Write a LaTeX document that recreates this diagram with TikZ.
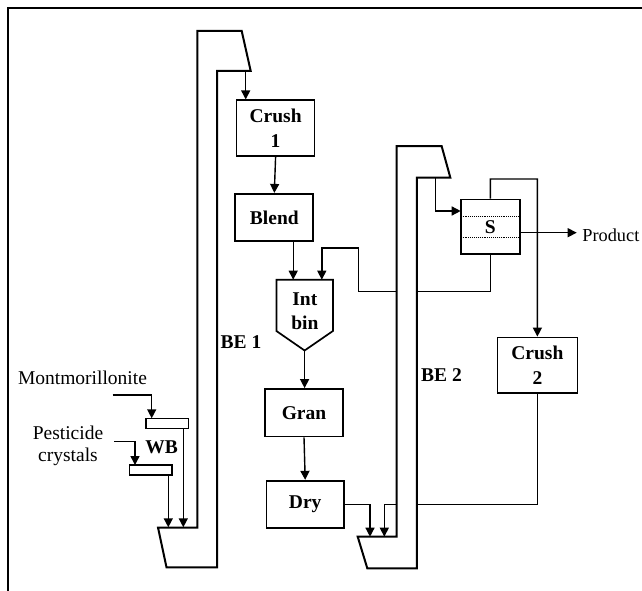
\documentclass[tikz,border=0pt]{standalone}
\usepackage{fontspec}
\setmainfont{Liberation Serif}
\usetikzlibrary{arrows.meta}
\begin{document}
\begin{tikzpicture}[x=1pt,y=-1pt,
  conn/.style={line width=1.4pt},
  arr/.style={conn,-{Triangle[length=9pt,width=9pt]}},
  unit/.style={draw,line width=1.7pt,inner sep=0pt,font=\fontsize{19.5}{24.5}\selectfont\bfseries,align=center},
  lbl/.style={inner sep=0pt,font=\fontsize{19.5}{21.7}\selectfont,align=center},
  blbl/.style={inner sep=0pt,font=\fontsize{19.5}{24.5}\selectfont\bfseries,align=center},
  elev/.style={draw,fill=white,line width=2pt},
  feeder/.style={draw,line width=1.6pt,inner sep=0pt,minimum height=10pt}]
\useasboundingbox (0,0) rectangle (642,591);
% frame
\draw[line width=1.4pt] (8,591) -- (8,8) -- (642,8);

% process units
\node[unit,minimum width=78pt,minimum height=55.5pt] (crush1) at (275.6,128) {Crush\\1};
\node[unit,minimum width=78pt,minimum height=47.5pt] (blend) at (274.3,217.5) {Blend};
\node[unit,minimum width=78pt,minimum height=47.5pt] (gran) at (304,412.7) {Gran};
\node[unit,minimum width=77.4pt,minimum height=47pt] (dry) at (305.2,504.2) {Dry};
\node[unit,minimum width=80pt,minimum height=55.7pt] (crush2) at (537.4,365.3) {Crush\\2};
\node[unit,minimum width=59.3pt,minimum height=54.7pt] (s) at (490.4,226.7) {};
\node[blbl] (slabel) at (490.4,227.5) {S};
\draw[densely dotted,line width=0.9pt] (460.7,216) -- (520.1,216);
\draw[densely dotted,line width=0.9pt] (460.7,237.3) -- (520.1,237.3);

% intermediate bin
\coordinate (ibA) at (276.4,279.7);
\coordinate (ibB) at (332.9,279.7);
\coordinate (ibtip) at (304.6,350.5);
\draw[line width=1.7pt] (ibA) -- (ibB) -- (332.9,331) -- (ibtip) -- (276.4,331) -- cycle;
\node[blbl] (intbin) at (304.8,311) {Int\\bin};

% feeders
\node[feeder,minimum width=42.6pt] (wb1) at (167,423.3) {};
\node[feeder,minimum width=42.4pt] (wb2) at (150.5,470) {};
\node[blbl] (wb) at (161.7,447.3) {WB};
\node[lbl] (mont) at (82.5,378) {Montmorillonite};
\node[lbl] (pest) at (68,446) {Pesticide\\crystals};
\node[lbl,anchor=west,font=\fontsize{18.3}{21.7}\selectfont] (prod) at (582.2,235.5) {Product};
\node[blbl] (be1) at (241,342.3) {BE 1};
\node[blbl] (be2) at (441.5,375) {BE 2};

% connectors
\coordinate (be1out) at (245.7,71);
\draw[arr] (be1out) -- (be1out |- crush1.north);
\draw[arr] (crush1.south) -- (blend.north);
\coordinate (ib1) at (293.2,279.7);
\draw[arr] (ib1 |- blend.south) -- (ib1);
\coordinate (ib2) at (321.8,279.7);
\draw[arr] (s.south) -- (490.4,291.7) -- (358.7,291.7) -- (358.7,248) -- (321.8,248) -- (ib2);
\draw[arr] (ibtip) -- (ibtip |- gran.north);
\draw[arr] (gran.south) -- (dry.north);
\coordinate (be2out) at (435.7,177.7);
\draw[arr] (be2out) -- (435.7,211) -- (460.7,211);
\draw[arr] (s.north) -- (490.4,179) -- (537.3,179) -- (crush2.north);
\draw[arr] (520.1,232.7) -- (576.7,232.7);
\coordinate (be2inA) at (370,536.7);
\coordinate (be2inB) at (384.3,536.7);
\draw[arr] (crush2.south) -- (537.4,504.3) -- (384.3,504.3) -- (be2inB);
\draw[arr] (343.9,504.3) -- (370,504.3) -- (be2inA);
\coordinate (be1inA) at (168.3,527.3);
\coordinate (be1inB) at (183.3,527.3);
\draw[arr] (112.7,395) -- (151.7,395) -- (151.7,418.3);
\draw[arr] (183.3,428.3) -- (be1inB);
\draw[arr] (114,441.7) -- (135,441.7) -- (135,465);
\draw[arr] (168.3,475) -- (be1inA);

% bucket elevators
\draw[elev] (197.3,31) -- (241.7,31) -- (250.7,71) -- (217,71) -- (217,567.3) -- (166.5,567.3) -- (158,527.5) -- (197.3,527.5) -- cycle;
\draw[elev] (396.5,146) -- (441.6,146) -- (450.3,177.5) -- (416.8,177.5) -- (416.8,568.3) -- (367.3,568.3) -- (357.7,536.7) -- (396.5,536.7) -- cycle;
\end{tikzpicture}
\end{document}
